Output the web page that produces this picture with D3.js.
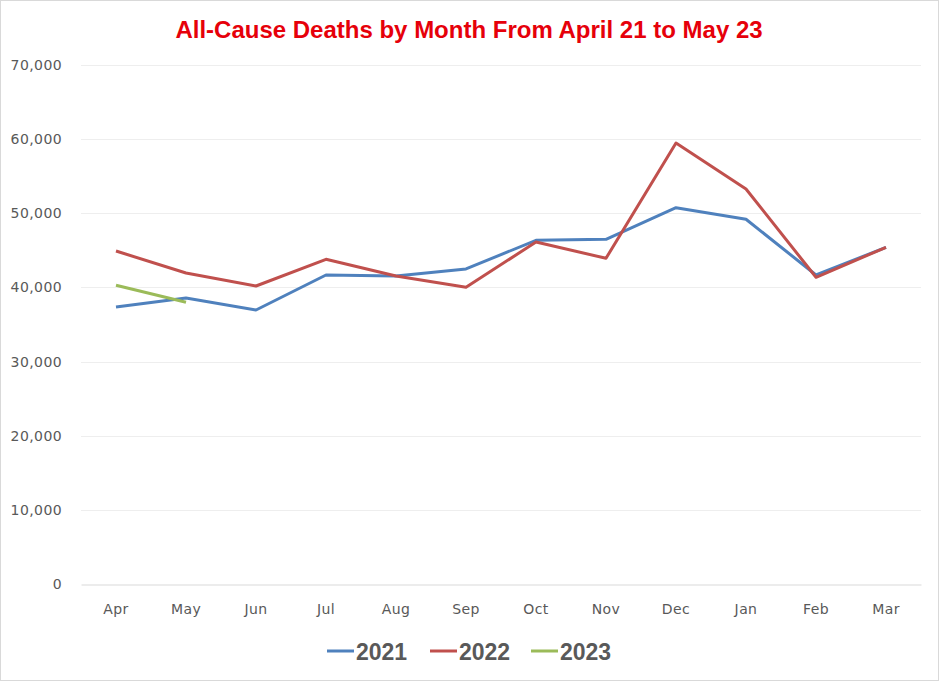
<html>
<head>
    <meta charset="utf-8">
    <script src="https://d3js.org/d3.v7.min.js"></script>
    <style>
        body { margin: 0; background: #fff; }
        svg { display: block; }
    </style>
</head>
<body>
    <svg id="chart" width="939" height="681"></svg>
    <script>
        // months of the reporting year, April to March
        let months = ["Apr", "May", "Jun", "Jul", "Aug", "Sep", "Oct", "Nov", "Dec", "Jan", "Feb", "Mar"]
        let deaths2021 = [37360, 38580, 36960, 41680, 41550, 42490, 46360, 46490, 50760, 49190, 41680, 45410]
        let deaths2022 = [44910, 41950, 40190, 43790, 41540, 40010, 46130, 43930, 59480, 53280, 41370, 45410]
        let deaths2023 = [40290, 38000]
        let yTicks = [0, 10000, 20000, 30000, 40000, 50000, 60000, 70000]
        let seriesNames = ["2021", "2022", "2023"]

        let series = [deaths2021, deaths2022, deaths2023]
        let colors = ["#4F81BD", "#C0504D", "#9BBB59"]

        let svg = d3.select("#chart"),
            margin = {top: 65, left: 81, bottom: 97, right: 18},
            width = +svg.attr("width"),
            height = +svg.attr("height");

        // outer frame
        svg.append("rect")
            .attr("x", 0.5).attr("y", 0.5)
            .attr("width", width - 1).attr("height", height - 1)
            .attr("fill", "#fff").attr("stroke", "#D9D9D9")

        svg.append("text")
            .attr("x", 469).attr("y", 38)
            .attr("text-anchor", "middle")
            .style("font", "bold 24px 'Liberation Sans Narrow', Arial")
            .style("fill", "#E6000A")
            .text("All-Cause Deaths by Month From April 21 to May 23")

        let x = d3.scaleBand()
            .domain(months)
            .range([margin.left, width - margin.right])

        let y = d3.scaleLinear()
            .domain([0, 70000])
            .range([height - margin.bottom, margin.top])

        // gridlines
        svg.append("g")
            .selectAll("line")
            .data(yTicks.slice(1))
            .enter().append("line")
            .attr("x1", x.range()[0]).attr("x2", x.range()[1])
            .attr("y1", d => Math.round(y(d)) + 0.5).attr("y2", d => Math.round(y(d)) + 0.5)
            .attr("stroke", "#EEEEEE")

        let yAxis = svg.append("g")
            .attr("transform", `translate(${x.range()[0]},0)`)
            .call(d3.axisLeft(y).tickValues(yTicks).tickFormat(d3.format(",")).tickSize(0).tickPadding(19))
        yAxis.select(".domain").remove()
        yAxis.selectAll("text")
            .style("font", "14px Verdana, 'DejaVu Sans'")
            .style("letter-spacing", "0.4px")
            .style("fill", "#595959")

        let xAxis = svg.append("g")
            .attr("transform", `translate(0,${Math.round(y(0)) + 0.5})`)
            .call(d3.axisBottom(x).tickSize(0).tickPadding(20))
        xAxis.select(".domain").attr("stroke", "#D9D9D9")
        xAxis.selectAll("text")
            .style("font", "14px Verdana, 'DejaVu Sans'")
            .style("letter-spacing", "0.4px")
            .style("fill", "#595959")

        let line = d3.line()
            .x((d, i) => x(months[i]) + x.bandwidth() / 2)
            .y(d => y(d))

        svg.append("g")
            .selectAll("path")
            .data(series)
            .enter().append("path")
            .attr("d", d => line(d))
            .attr("fill", "none")
            .attr("stroke", (d, i) => colors[i])
            .attr("stroke-width", 3)
            .attr("stroke-linejoin", "round")

        // legend
        let legendX = [327, 430, 531]
        let legend = svg.append("g")
            .selectAll("g")
            .data(seriesNames)
            .enter().append("g")
            .attr("transform", (d, i) => `translate(${legendX[i]},651)`)

        legend.append("line")
            .attr("x1", 0).attr("x2", 27)
            .attr("stroke", (d, i) => colors[i])
            .attr("stroke-width", 3)

        legend.append("text")
            .attr("x", 29).attr("y", 8.5)
            .style("font", "bold 23px 'Liberation Sans Narrow', Arial")
            .style("fill", "#595959")
            .text(d => d)
    </script>
</body>
</html>
